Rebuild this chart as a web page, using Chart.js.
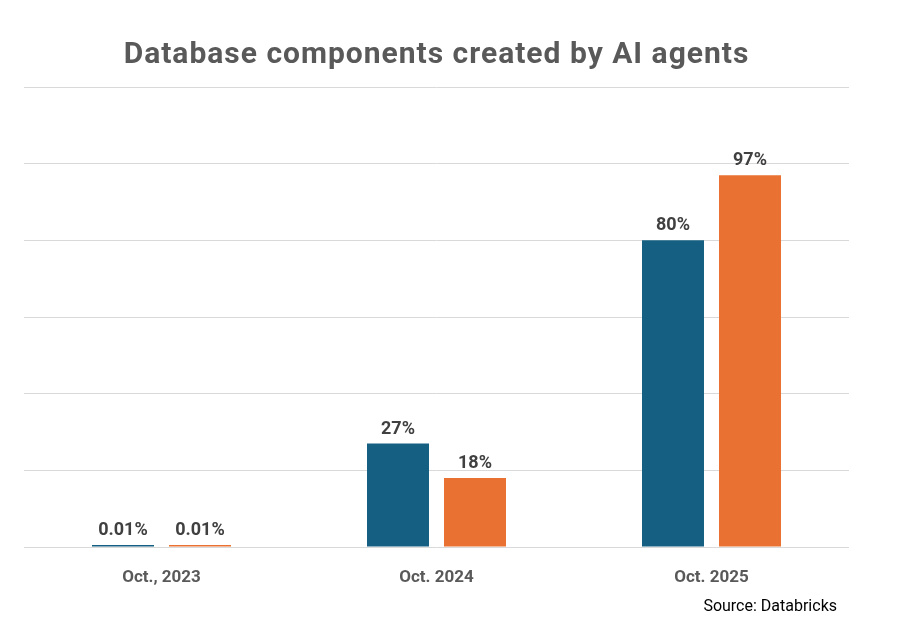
<!DOCTYPE html>
<html>
<head>
<meta charset="utf-8">
<script src="https://cdn.jsdelivr.net/npm/chart.js@4.4.1/dist/chart.umd.min.js"></script>
<style>
    html, body { margin: 0; padding: 0; background: #ffffff; }
    #wrap { width: 905px; height: 627px; }
</style>
</head>
<body>
<div id="wrap"><canvas id="agentChart" width="905" height="627"></canvas></div>
<script>
const categories = ["Oct., 2023", "Oct. 2024", "Oct. 2025"];
const seriesA = [0.01, 27, 80];
const seriesB = [0.01, 18, 97];
const yTicks = [0, 20, 40, 60, 80, 100, 120];

const titleText = "Database components created by AI agents";
const sourceText = "Source: Databricks";

// value labels above bars + title + source
const extraText = {
    id: "extraText",
    afterDatasetsDraw: function (chart) {
        var ctx = chart.ctx;
        ctx.save();
        ctx.font = "bold 18px Roboto";
        ctx.fillStyle = "#404040";
        ctx.textAlign = "center";
        ctx.textBaseline = "alphabetic";
        chart.data.datasets.forEach(function (ds, i) {
            chart.getDatasetMeta(i).data.forEach(function (bar, j) {
                var v = ds.data[j];
                var txt = (v < 1 ? v.toFixed(2) : v) + "%";
                ctx.fillText(txt, bar.x, bar.y - 10);
            });
        });
        ctx.restore();
    },
    afterDraw: function (chart) {
        var ctx = chart.ctx;
        var area = chart.chartArea;
        ctx.save();
        ctx.font = "bold 30px Roboto";
        ctx.letterSpacing = "1px";
        ctx.fillStyle = "#595959";
        ctx.textAlign = "center";
        ctx.textBaseline = "alphabetic";
        ctx.fillText(titleText, (area.left + area.right) / 2, 63);

        ctx.letterSpacing = "0px";
        ctx.font = "16px Roboto";
        ctx.fillStyle = "#000000";
        ctx.textAlign = "right";
        ctx.fillText(sourceText, 837, 611);
        ctx.restore();
    },
};

var ctx = document.getElementById("agentChart").getContext("2d");
var chart = new Chart(ctx, {
    type: "bar",
    data: {
        labels: categories,
        datasets: [
            {
                label: "Series 1",
                backgroundColor: "#156082",
                data: seriesA,
                minBarLength: 2,
            },
            {
                label: "Series 2",
                backgroundColor: "#E97132",
                data: seriesB,
                minBarLength: 2,
            },
        ],
    },
    options: {
        responsive: false,
        animation: false,
        layout: {
            padding: { top: 87, left: 24, right: 56, bottom: 40 },
        },
        datasets: {
            bar: {
                categoryPercentage: 0.56,
                barPercentage: 0.805,
            },
        },
        plugins: {
            legend: { display: false },
            title: { display: false },
            tooltip: { enabled: false },
        },
        scales: {
            x: {
                grid: { display: false },
                border: { display: false },
                ticks: {
                    color: "#595959",
                    font: { family: "Roboto", size: 17, weight: "bold" },
                    padding: 13,
                },
                afterFit: function (scale) {
                    scale.height = 40;
                },
            },
            y: {
                min: 0,
                max: 120,
                afterBuildTicks: function (scale) {
                    scale.ticks = yTicks.map(function (v) {
                        return { value: v };
                    });
                },
                grid: { color: "#d9d9d9", lineWidth: 1, drawTicks: false },
                border: { display: false },
                ticks: { display: false },
                afterFit: function (scale) {
                    scale.width = 0;
                },
            },
        },
    },
    plugins: [extraText],
});
</script>
</body>
</html>
